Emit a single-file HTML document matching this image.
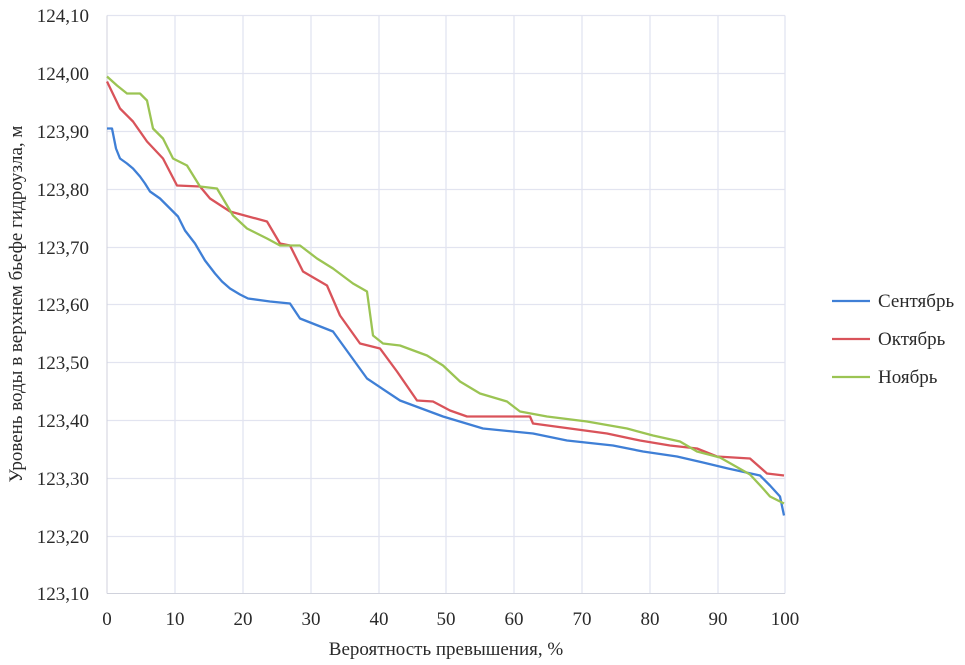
<!DOCTYPE html>
<html><head><meta charset="utf-8"><style>
body{margin:0;background:#fff;}
svg{display:block;font-family:"Liberation Serif",serif;}
</style></head><body>
<svg width="965" height="665" viewBox="0 0 965 665">
<rect width="965" height="665" fill="#fff"/>
<g transform="translate(0,-1.5)">
<g stroke="#e2e4f0" stroke-width="1.3">
<line x1="107" y1="17" x2="785" y2="17"/><line x1="107" y1="75" x2="785" y2="75"/><line x1="107" y1="133" x2="785" y2="133"/><line x1="107" y1="191" x2="785" y2="191"/><line x1="107" y1="249" x2="785" y2="249"/><line x1="107" y1="306" x2="785" y2="306"/><line x1="107" y1="364" x2="785" y2="364"/><line x1="107" y1="422" x2="785" y2="422"/><line x1="107" y1="480" x2="785" y2="480"/><line x1="107" y1="538" x2="785" y2="538"/>
<line x1="175" y1="17" x2="175" y2="595"/><line x1="243" y1="17" x2="243" y2="595"/><line x1="311" y1="17" x2="311" y2="595"/><line x1="379" y1="17" x2="379" y2="595"/><line x1="446" y1="17" x2="446" y2="595"/><line x1="514" y1="17" x2="514" y2="595"/><line x1="582" y1="17" x2="582" y2="595"/><line x1="650" y1="17" x2="650" y2="595"/><line x1="718" y1="17" x2="718" y2="595"/><line x1="785" y1="17" x2="785" y2="595"/>
</g>
<line x1="107" y1="17" x2="107" y2="595" stroke="#d0d2dc"/>
<line x1="107" y1="595" x2="785" y2="595" stroke="#d0d2dc"/>
<g fill="none" stroke-width="2.3" stroke-linejoin="round">
<polyline stroke="#3f7fd6" points="107,130 112,130 116,150 120,160 127,165 133,170 140,178 145,185 150,193 160,200 170,210 178,218 185,232 195,245 205,262 215,275 222,283 230,290 240,296 248,300 270,303 290,305 300,320 333,333 367,380 400,402 443,418 483,430 533,435 567,442 613,447 643,453 677,458 703,464 728,470 760,477 770,487 780,498 784,517"/>
<polyline stroke="#d9535a" points="107,83 120,110 133,123 147,143 163,160 177,187 200,188 210,200 230,213 267,223 280,245 290,247 303,273 327,287 340,317 360,345 380,350 397,373 417,402 433,403 450,412 467,418 530,418 533,425 570,430 607,435 640,442 670,447 697,450 717,458 750,460 767,475 784,477"/>
<polyline stroke="#9bc453" points="107,78 117,87 127,95 140,95 147,102 153,130 163,140 173,160 187,167 200,188 217,190 233,217 247,230 267,240 280,247 300,247 317,260 333,270 353,285 367,293 373,337 383,345 400,347 427,357 443,367 460,383 480,395 507,403 520,413 547,418 587,423 627,430 653,437 680,443 697,453 720,459 750,476 763,490 770,498 784,505"/>
</g>
</g>
<g font-size="19" fill="#2a2a2a" text-anchor="end">
<text x="89" y="22">124,10</text><text x="89" y="80">124,00</text><text x="89" y="138">123,90</text><text x="89" y="196">123,80</text><text x="89" y="254">123,70</text><text x="89" y="311">123,60</text><text x="89" y="369">123,50</text><text x="89" y="427">123,40</text><text x="89" y="485">123,30</text><text x="89" y="543">123,20</text><text x="89" y="600">123,10</text>
</g>
<g font-size="19" fill="#2a2a2a" text-anchor="middle">
<text x="107" y="625">0</text><text x="175" y="625">10</text><text x="243" y="625">20</text><text x="311" y="625">30</text><text x="379" y="625">40</text><text x="446" y="625">50</text><text x="514" y="625">60</text><text x="582" y="625">70</text><text x="650" y="625">80</text><text x="718" y="625">90</text><text x="785" y="625">100</text>
<text x="446" y="655">Вероятность превышения, %</text>
<text transform="translate(22,304) rotate(-90)">Уровень воды в верхнем бьефе гидроузла, м</text>
</g>
<g stroke-width="2.3">
<line x1="832" y1="301" x2="870" y2="301" stroke="#3f7fd6"/>
<line x1="832" y1="339" x2="870" y2="339" stroke="#d9535a"/>
<line x1="832" y1="377" x2="870" y2="377" stroke="#9bc453"/>
</g>
<g font-size="19" fill="#2a2a2a">
<text x="878" y="307">Сентябрь</text><text x="878" y="345">Октябрь</text><text x="878" y="383">Ноябрь</text>
</g>
</svg>
</body></html>
